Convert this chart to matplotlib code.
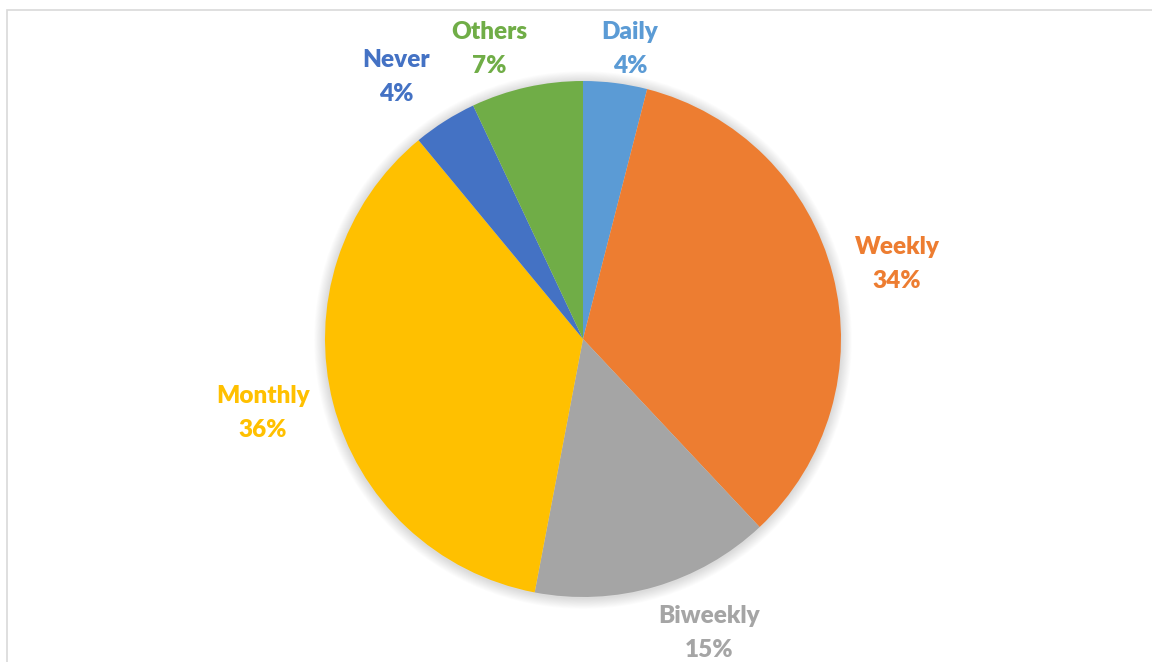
import matplotlib
matplotlib.use("Agg")
import matplotlib.pyplot as plt
from matplotlib.patches import Circle, Rectangle

# Survey responses: how often people do it
categories = ["Daily", "Weekly", "Biweekly", "Monthly", "Never", "Others"]
shares = [4, 34, 15, 36, 4, 7]
colors = ["#5B9BD5", "#ED7D31", "#A5A5A5", "#FFC000", "#4472C4", "#70AD47"]

W, H = 1152, 662
DPI = 100
cx, cy, R = 583, 339, 258  # pie centre and radius in pixels

fig = plt.figure(figsize=(W / DPI, H / DPI), dpi=DPI)
ax = fig.add_axes([0, 0, 1, 1])

wedges, _ = ax.pie(shares, colors=colors, startangle=90, counterclock=False,
                   radius=1.0, center=(0, 0), frame=True,
                   wedgeprops=dict(linewidth=0, zorder=2))
ax.set_xlim(-cx / R, (W - cx) / R)
ax.set_ylim(-(H - cy) / R, cy / R)
ax.set_aspect("equal")
ax.axis("off")

# chart-area frame (right and bottom edges run off the canvas)
ax.add_patch(Rectangle(((7 - cx) / R, (cy - 700) / R), (1200 - 7) / R, (700 - 10) / R,
                       fill=False, edgecolor="#D9D9D9", linewidth=1.2, zorder=0))

# soft shadow behind the pie
for k in range(12):
    ax.add_patch(Circle((0.0, -0.004), 1.0 + 0.0035 * (12 - k), facecolor="#000000",
                        alpha=0.012, edgecolor="none", zorder=1))

# label centres (pixels)
label_pos = [(630, 49), (897, 264), (709, 633), (263, 413), (396, 77), (489, 49)]
for name, val, col, (px, py) in zip(categories, shares, colors, label_pos):
    ax.text((px - cx) / R, (cy - py) / R, f"{name}\n{val}%", color=col,
            ha="center", va="center", fontsize=17.5, fontweight="heavy",
            family="Lato", linespacing=1.62, zorder=3)

fig.savefig("out.png", dpi=DPI, facecolor="white")
